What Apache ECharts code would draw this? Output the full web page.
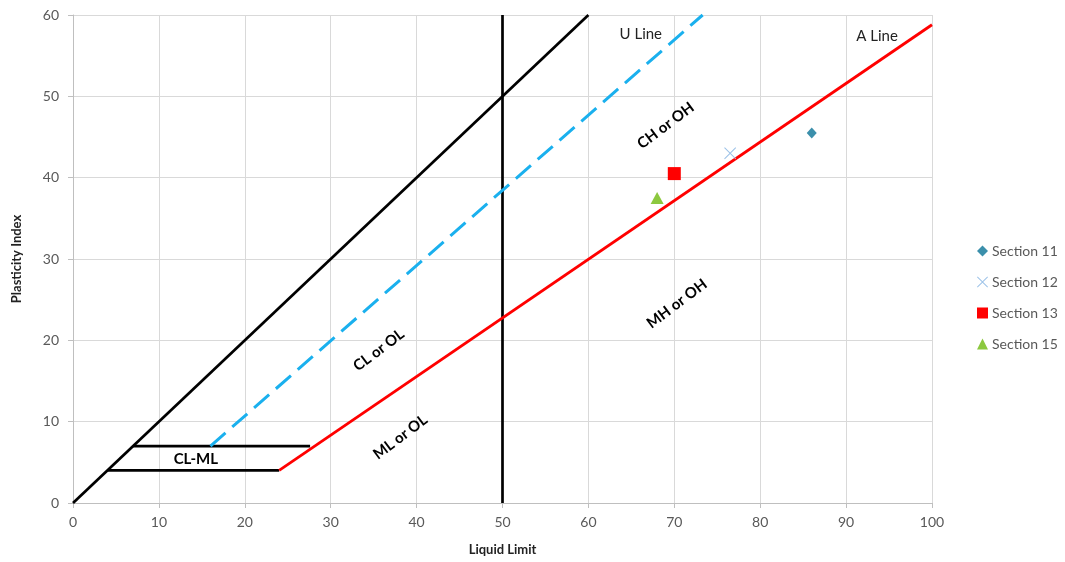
<!DOCTYPE html>
<html>
<head>
<meta charset="utf-8">
<script src="https://cdn.jsdelivr.net/npm/echarts@6/dist/echarts.min.js"></script>
<style>
  html, body { margin: 0; padding: 0; background: #fff; }
  #chart { width: 1065px; height: 562px; }
</style>
</head>
<body>
<div id="chart"></div>
<script>
// Plasticity chart: reference lines and measured sections
const xTicks = [0, 10, 20, 30, 40, 50, 60, 70, 80, 90, 100];
const yTicks = [0, 10, 20, 30, 40, 50, 60];

const diagonalLine = [[0, 0], [60, 60]];
const llFiftyLine = [[50, 0], [50, 60]];
const uLine = [[16, 7], [73.3, 60]];
const aLine = [[24, 4], [100, 58.8]];
const clmlTop = [[7, 7], [27.6, 7]];
const clmlBottom = [[4, 4], [24, 4]];

const section11 = [[86, 45.5]];
const section12 = [[76.5, 43]];
const section13 = [[70, 40.5]];
const section15 = [[68, 37.5]];

const zoneLabels = [
  { name: 'U Line', value: [66.1, 57.7], rotate: 0, bold: false },
  { name: 'A Line', value: [93.6, 57.4], rotate: 0, bold: false },
  { name: 'CH or OH', value: [69.0, 46.4], rotate: 37, bold: true },
  { name: 'CL or OL', value: [35.6, 18.8], rotate: 37, bold: true },
  { name: 'MH or OH', value: [70.3, 24.5], rotate: 37, bold: true },
  { name: 'ML or OL', value: [38.1, 8.1], rotate: 37, bold: true },
  { name: 'CL-ML', value: [14.3, 5.4], rotate: 0, bold: true }
];

const font = 'Lato, "Open Sans", sans-serif';
const crossPath = 'path://M0,0.6L0.6,0L5,4.4L9.4,0L10,0.6L5.6,5L10,9.4L9.4,10L5,5.6L0.6,10L0,9.4L4.4,5Z';

function refLine(data, color, width, type) {
  return {
    type: 'line', data: data, symbol: 'none', silent: true,
    lineStyle: { color: color, width: width, type: type || 'solid' },
    z: 3
  };
}

const chart = echarts.init(document.getElementById('chart'), null, { renderer: 'canvas' });
chart.setOption({
  animation: false,
  textStyle: { fontFamily: font },
  grid: { left: 73, right: 133, top: 15, bottom: 59 },
  xAxis: {
    type: 'value', min: 0, max: 100, interval: 10,
    name: 'Liquid Limit', nameLocation: 'middle', nameGap: 40,
    nameTextStyle: { fontWeight: 'bold', fontSize: 13, color: '#222', fontFamily: font },
    axisLine: { lineStyle: { color: '#bfbfbf' } },
    axisTick: { show: true, length: 5, lineStyle: { color: '#bfbfbf' } },
    axisLabel: { color: '#595959', fontSize: 14, margin: 12, fontFamily: font,
      formatter: v => xTicks.includes(v) ? String(v) : '' },
    splitLine: { lineStyle: { color: '#d9d9d9' } }
  },
  yAxis: {
    type: 'value', min: 0, max: 60, interval: 10,
    name: 'Plasticity Index', nameLocation: 'middle', nameGap: 50, nameRotate: 90,
    nameTextStyle: { fontWeight: 'bold', fontSize: 13, color: '#222', fontFamily: font },
    axisLine: { show: true, lineStyle: { color: '#bfbfbf' } },
    axisTick: { show: true, length: 5, lineStyle: { color: '#bfbfbf' } },
    axisLabel: { color: '#595959', fontSize: 14, margin: 14, fontFamily: font,
      formatter: v => yTicks.includes(v) ? String(v) : '' },
    splitLine: { lineStyle: { color: '#d9d9d9' } }
  },
  legend: {
    orient: 'vertical', left: 972, top: 239, itemGap: 17,
    itemWidth: 11, itemHeight: 11,
    textStyle: { color: '#595959', fontSize: 14, fontFamily: font, padding: [0, 0, 0, -1] },
    data: ['Section 11', 'Section 12', 'Section 13', 'Section 15']
  },
  series: [
    refLine(diagonalLine, '#000', 2.7),
    refLine(llFiftyLine, '#000', 2.7),
    refLine(clmlTop, '#000', 2.7),
    refLine(clmlBottom, '#000', 2.7),
    refLine(uLine, '#1ab0ee', 3, [20, 9]),
    refLine(aLine, '#ff0000', 2.8),
    {
      name: 'Section 11', type: 'scatter', data: section11,
      symbol: 'diamond', symbolSize: [10, 11],
      itemStyle: { color: '#3b8fab', opacity: 1 }, z: 5
    },
    {
      name: 'Section 12', type: 'scatter', data: section12,
      symbol: crossPath, symbolSize: 12,
      itemStyle: { color: '#9cc2e8', opacity: 1 }, z: 5
    },
    {
      name: 'Section 13', type: 'scatter', data: section13,
      symbol: 'rect', symbolSize: 13,
      itemStyle: { color: '#ff0000', opacity: 1 }, z: 5
    },
    {
      name: 'Section 15', type: 'scatter', data: section15,
      symbol: 'triangle', symbolSize: [13, 12],
      itemStyle: { color: '#8cc83f', opacity: 1 }, z: 5
    },
    {
      type: 'scatter', silent: true, symbol: 'circle', symbolSize: 2, z: 6,
      itemStyle: { color: 'rgba(255,255,255,0)' },
      data: zoneLabels.map(d => ({
        name: d.name, value: d.value,
        label: {
          show: true, position: 'inside', formatter: d.name, rotate: d.rotate,
          fontSize: 15,
          fontWeight: d.bold ? 'bold' : 'normal',
          color: d.bold ? '#000' : '#222',
          textBorderWidth: 0, opacity: 1,
          fontFamily: font
        }
      }))
    }
  ]
});
</script>
</body>
</html>
